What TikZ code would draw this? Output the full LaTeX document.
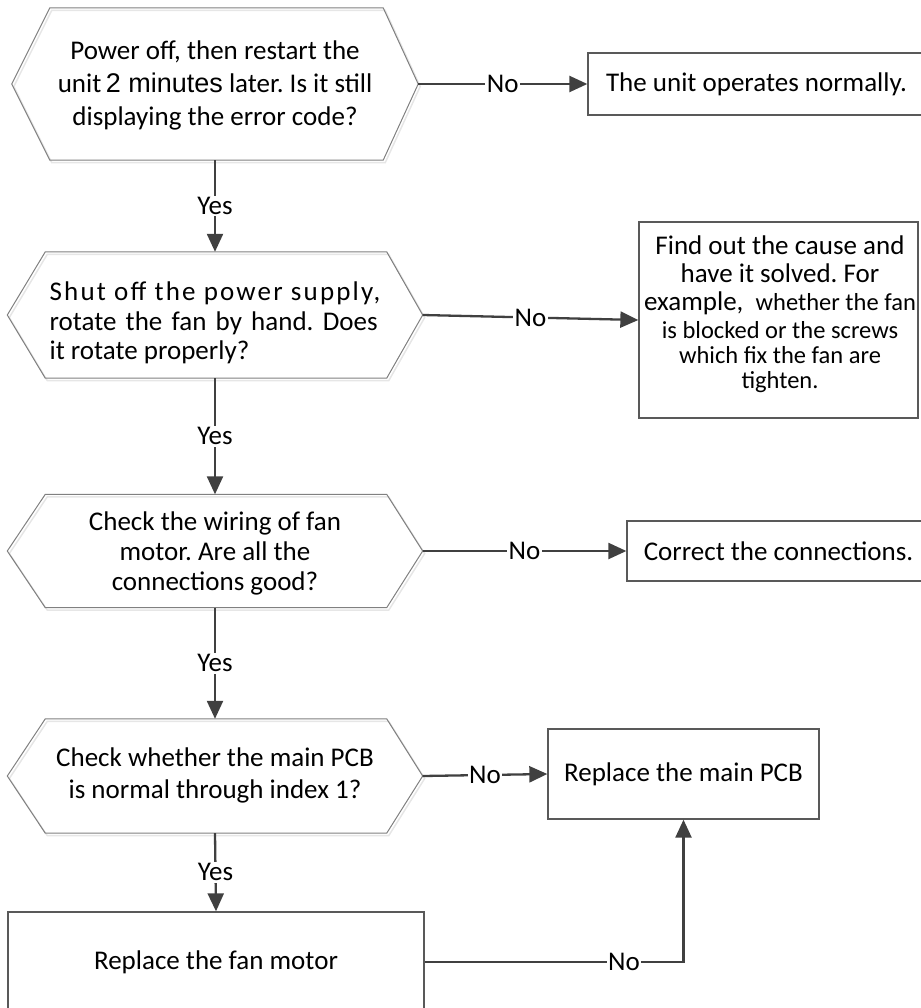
\documentclass[tikz,border=0pt]{standalone}
\usepackage{fontspec}
\setmainfont{Carlito}
\newfontfamily\arialish{Liberation Sans}
\usetikzlibrary{arrows.meta}
\definecolor{lineC}{HTML}{404040}
\definecolor{boxC}{HTML}{595959}
\definecolor{hexC}{HTML}{808080}
\definecolor{shadC}{HTML}{E6E6E6}
\newcommand{\drawhexa}[3]{%
  \draw[hexshadow,transform canvas={shift={(2pt,-2.5pt)}}] ([xshift=#2pt]#1.north west) -- ([xshift=-#3pt]#1.north east) -- (#1.east) -- ([xshift=-#3pt]#1.south east) -- ([xshift=#2pt]#1.south west) -- (#1.west) -- cycle;
  \draw[hexa] ([xshift=#2pt]#1.north west) -- ([xshift=-#3pt]#1.north east) -- (#1.east) -- ([xshift=-#3pt]#1.south east) -- ([xshift=#2pt]#1.south west) -- (#1.west) -- cycle;}
\tikzset{
  hexnode/.style={rectangle, inner sep=0pt},
  txt/.style={inner sep=0pt, align=center},
  hexa/.style={draw=hexC, line width=1pt, line join=miter},
  hexshadow/.style={draw=shadC, line width=1.5pt},
  boxnode/.style={rectangle, draw=boxC, line width=1.3pt, inner sep=0pt, align=center},
  conn/.style={draw=lineC, line width=2.3pt, -{Triangle[length=18pt,width=16pt]}},
  lbl/.style={fill=white, inner sep=1.5pt, text=black},
}
\begin{document}
\frenchspacing
\begin{tikzpicture}[x=1pt, y=-1pt, font=\fontsize{27}{31}\selectfont]
\useasboundingbox (0,0) rectangle (920,1008);

% decision shapes
\node[hexnode, minimum width=406pt, minimum height=152pt] (h1) at (215,84) {};
\drawhexa{h1}{38}{35}
\node[txt, font=\fontsize{27}{33}\selectfont] (t1) at (215,85)
  {Power off, then restart the\\ unit\,{\arialish 2 minutes} later. Is it still\\ displaying the error code?};

\node[hexnode, minimum width=415pt, minimum height=126pt] (h2) at (215,315) {};
\drawhexa{h2}{38}{36}
\node[txt, align=left, font=\fontsize{27}{29.5}\selectfont] (t2) at (215,323)
  {{\addfontfeature{LetterSpace=8}Shut off the power supply,}\\ \makebox[328pt][s]{rotate the fan by hand. Does}\\ it rotate properly?};

\node[hexnode, minimum width=415pt, minimum height=113pt] (h3) at (215,551) {};
\drawhexa{h3}{38}{36}
\node[txt, font=\fontsize{27}{30}\selectfont] (t3) at (215,553)
  {Check the wiring of fan\\ motor. Are all the\\ connections good?};

\node[hexnode, minimum width=415pt, minimum height=114pt] (h4) at (215,776) {};
\drawhexa{h4}{38}{36}
\node[txt, font=\fontsize{27}{32}\selectfont] (t4) at (215,775)
  {Check whether the main PCB\\ is normal through index 1?};

% result boxes
\node[boxnode, minimum width=337pt, minimum height=62pt] (b2) at (756.5,84)
  {The unit operates normally.};
\node[boxnode, minimum width=279pt, minimum height=196pt] (b3) at (778.5,320) {};
\node[txt, font=\fontsize{27}{30}\selectfont] (t5) at (780,314)
  {Find out the cause and\\[-2pt] have it solved. For\\[-2pt] example,\ \ {\fontsize{24.5}{30}\selectfont whether the fan}\\[-2pt]
   {\fontsize{24.5}{30}\selectfont is blocked or the screws}\\[-5pt] {\fontsize{24.5}{30}\selectfont which fix the fan are}\\[-5pt] {\fontsize{24.5}{30}\selectfont tighten.}};
\node[boxnode, minimum width=303pt, minimum height=60pt] (b4) at (778.5,551)
  {Correct the connections.};
\node[boxnode, minimum width=271pt, minimum height=90pt] (b5) at (683.5,774)
  {Replace the main PCB};
\node[boxnode, minimum width=416pt, minimum height=100pt] (b6) at (216,962)
  {Replace the fan motor};

% connectors: Yes
\draw[conn] (h1.south) -- node[lbl] {Yes} (h2.north);
\draw[conn] (h2.south) -- node[lbl] {Yes} (h3.north);
\draw[conn] (h3.south) -- node[lbl] {Yes} (h4.north);
\draw[conn] (h4.south) -- node[lbl] {Yes} (b6.north);

% connectors: No
\draw[conn] (h1.east) -- node[lbl] {No} (b2.west);
\draw[conn] (h2.east) -- node[lbl] {No} (b3.west);
\draw[conn] (h3.east) -- node[lbl] {No} (b4.west);
\draw[conn] (h4.east) -- node[lbl] {No} (b5.west);
\draw[conn] (b6.east) -| node[lbl, pos=0.385] {No} (b5.south);
\end{tikzpicture}
\end{document}
